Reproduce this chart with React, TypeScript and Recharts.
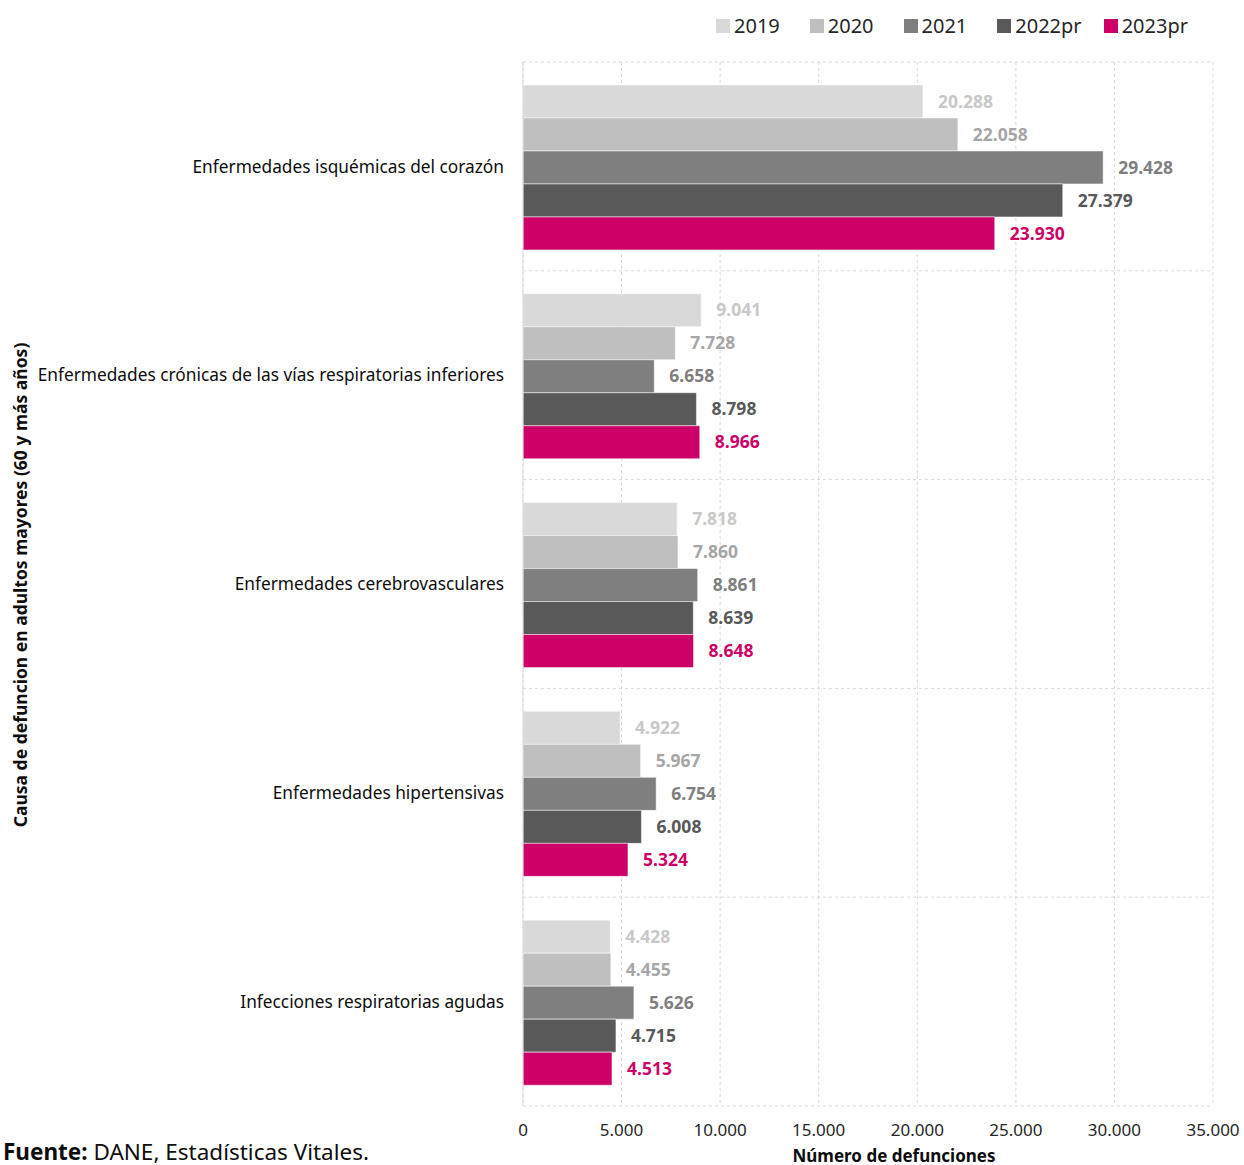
import { BarChart, Bar, XAxis, YAxis, CartesianGrid, LabelList } from 'recharts';

const causes = [
  'Enfermedades isquémicas del corazón',
  'Enfermedades crónicas de las vías respiratorias inferiores',
  'Enfermedades cerebrovasculares',
  'Enfermedades hipertensivas',
  'Infecciones respiratorias agudas',
];

const y2019 = [20288, 9041, 7818, 4922, 4428];
const y2020 = [22058, 7728, 7860, 5967, 4455];
const y2021 = [29428, 6658, 8861, 6754, 5626];
const y2022 = [27379, 8798, 8639, 6008, 4715];
const y2023 = [23930, 8966, 8648, 5324, 4513];

const xTicks = [0, 5000, 10000, 15000, 20000, 25000, 30000, 35000];

const SERIES = [
  { key: 'y2019', name: '2019', fill: '#d9d9d9', label: '#c8c8c8' },
  { key: 'y2020', name: '2020', fill: '#bfbfbf', label: '#a6a6a6' },
  { key: 'y2021', name: '2021', fill: '#7f7f7f', label: '#7f7f7f' },
  { key: 'y2022', name: '2022pr', fill: '#595959', label: '#595959' },
  { key: 'y2023', name: '2023pr', fill: '#cc0066', label: '#cc0066' },
];

const FONT = '"Noto Sans", "Open Sans", sans-serif';

const fmt = (v: unknown) => String(v).replace(/\B(?=(\d{3})+(?!\d))/g, '.');

const data = causes.map((c, i) => ({
  cause: c,
  y2019: y2019[i],
  y2020: y2020[i],
  y2021: y2021[i],
  y2022: y2022[i],
  y2023: y2023[i],
}));

function LegendBox() {
  return (
    <div
      style={{
        position: 'absolute',
        left: 716,
        top: 12,
        display: 'flex',
        fontFamily: FONT,
        fontSize: 20,
        color: '#262626',
        whiteSpace: 'nowrap',
      }}
    >
      {SERIES.map((s) => (
        <div key={s.key} style={{ display: 'flex', alignItems: 'center', marginRight: s.name.length > 4 ? 22 : 30 }}>
          <span style={{ width: 14, height: 14, background: s.fill, marginRight: 4, display: 'inline-block' }} />
          <span>{s.name}</span>
        </div>
      ))}
    </div>
  );
}

export default function App() {
  return (
    <div style={{ position: 'absolute', left: 0, top: 0, width: 1244, height: 1165, background: '#fff', fontFamily: FONT }}>
      <BarChart
        width={1244}
        height={1165}
        data={data}
        layout="vertical"
        margin={{ top: 62, right: 31, bottom: 19, left: 0 }}
        barCategoryGap="11%"
        barGap={0}
      >
        <CartesianGrid
          stroke="#d9d9d9"
          strokeDasharray="3 3"
          horizontalCoordinatesGenerator={({ offset }: any) =>
            [0, 1, 2, 3, 4, 5].map((i) => offset.top + (i * offset.height) / 5)
          }
        />
        <XAxis
          type="number"
          domain={[0, 35000]}
          ticks={xTicks}
          tickFormatter={fmt}
          axisLine={false}
          tickLine={false}
          height={40}
          tickMargin={12}
          tick={{ fill: '#262626', fontSize: 17, fontFamily: FONT }}
        />
        <YAxis
          type="category"
          dataKey="cause"
          width={523}
          axisLine={{ stroke: '#d9d9d9' }}
          tickLine={false}
          tickMargin={13}
          tick={{ fill: '#0d0d0d', fontSize: 17.3, fontFamily: FONT }}
          interval={0}
        />
        {SERIES.map((s) => (
          <Bar
            key={s.key}
            dataKey={s.key}
            name={s.name}
            fill={s.fill}
            stroke="#ffffff"
            strokeOpacity={0.5}
            strokeWidth={1}
            isAnimationActive={false}
          >
            <LabelList
              dataKey={s.key}
              position="right"
              offset={15}
              formatter={fmt}
              style={{ fill: s.label, fontSize: 17.5, fontWeight: 700, fontFamily: FONT }}
            />
          </Bar>
        ))}
      </BarChart>
      <LegendBox />
      <div
        style={{
          position: 'absolute',
          left: 20,
          top: 585,
          transform: 'translate(-50%, -50%) rotate(-90deg)',
          whiteSpace: 'nowrap',
          fontSize: 17.5,
          fontWeight: 700,
          color: '#0d0d0d',
        }}
      >
        Causa de defuncion en adultos mayores (60 y más años)
      </div>
      <div
        style={{
          position: 'absolute',
          left: 894,
          top: 1156,
          transform: 'translate(-50%, -50%)',
          whiteSpace: 'nowrap',
          fontSize: 17,
          fontWeight: 700,
          lineHeight: '18px',
          color: '#0d0d0d',
        }}
      >
        Número de defunciones
      </div>
      <div style={{ position: 'absolute', left: 3, top: 1138, fontSize: 22.5, lineHeight: '28px', color: '#0d0d0d', whiteSpace: 'nowrap' }}>
        <b>Fuente:</b> DANE, Estadísticas Vitales.
      </div>
    </div>
  );
}
